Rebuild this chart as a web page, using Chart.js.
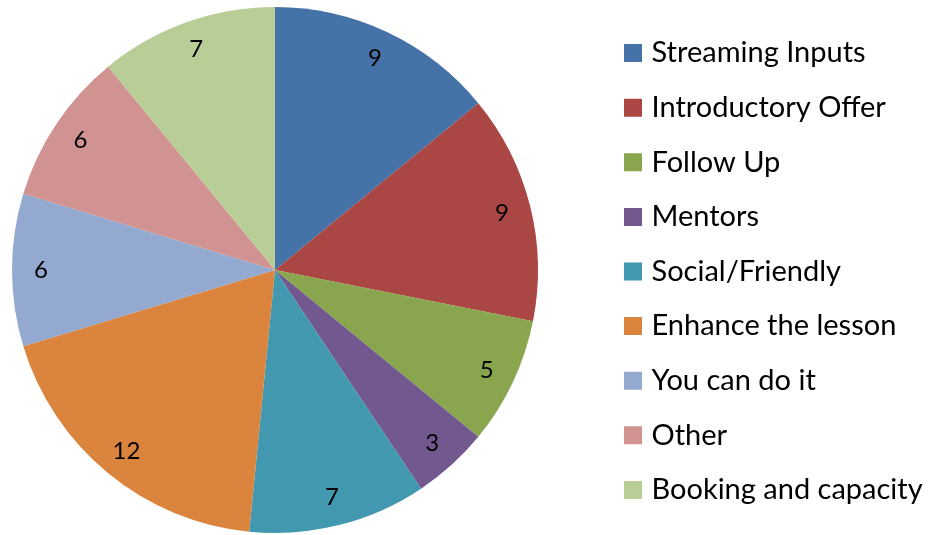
<!DOCTYPE html>
<html>
<head>
<meta charset="utf-8">
<script src="https://cdn.jsdelivr.net/npm/chart.js@4/dist/chart.umd.min.js"></script>
<style>
  html, body { margin: 0; padding: 0; background: #ffffff; }
  #wrap { width: 929px; height: 535px; }
</style>
</head>
<body>
<div id="wrap"><canvas id="c" width="929" height="535"></canvas></div>
<script>
const categories = [
  "Streaming Inputs",
  "Introductory Offer",
  "Follow Up",
  "Mentors",
  "Social/Friendly",
  "Enhance the lesson",
  "You can do it",
  "Other",
  "Booking and capacity"
];
const counts = [9, 9, 5, 3, 7, 12, 6, 6, 7];
const sliceColors = [
  "#4572A7", "#AA4643", "#89A54E", "#71588F", "#4198AF",
  "#DB843D", "#93A9CF", "#D19392", "#B9CD96"
];

const FONT = "Lato, 'Open Sans', sans-serif";
const LEGEND_PAD = 25.6;

// Place plot area (pie) on the left and the legend block on the right, like the original.
const placeBoxes = {
  id: "placeBoxes",
  afterLayout(chart) {
    const ca = chart.chartArea;
    ca.left = 12; ca.right = 538; ca.top = 7; ca.bottom = 533;
    ca.width = ca.right - ca.left; ca.height = ca.bottom - ca.top;
    const lg = chart.legend;
    if (lg) {
      const w = lg.width;
      lg.left = 629 - LEGEND_PAD;
      lg.right = lg.left + w;
      lg.top = 4; lg.bottom = 539;
      lg.height = lg.bottom - lg.top;
    }
  }
};

const valueLabels = {
  id: "valueLabels",
  afterDatasetsDraw(chart) {
    const ctx = chart.ctx;
    const meta = chart.getDatasetMeta(0);
    const data = chart.data.datasets[0].data;
    ctx.save();
    ctx.font = "24px " + FONT;
    ctx.fillStyle = "#000000";
    ctx.textAlign = "center";
    ctx.textBaseline = "middle";
    meta.data.forEach((arc, i) => {
      const p = arc.getProps(["x", "y", "startAngle", "endAngle", "outerRadius"], true);
      const mid = (p.startAngle + p.endAngle) / 2;
      const r = p.outerRadius * 0.89;
      ctx.fillText(String(data[i]), p.x + Math.cos(mid) * r, p.y + Math.sin(mid) * r);
    });
    ctx.restore();
  }
};

new Chart(document.getElementById("c"), {
  type: "pie",
  data: {
    labels: categories,
    datasets: [{
      data: counts,
      backgroundColor: sliceColors,
      borderWidth: 0
    }]
  },
  options: {
    responsive: false,
    animation: false,
    devicePixelRatio: 1,
    layout: { padding: 0 },
    plugins: {
      tooltip: { enabled: false },
      legend: {
        position: "right",
        align: "center",
        labels: {
          font: { family: FONT, size: 29 },
          color: "#000000",
          padding: LEGEND_PAD,
          boxWidth: 8,
          boxHeight: 8,
          generateLabels(chart) {
            return chart.data.labels.map((t, i) => ({
              text: t,
              fillStyle: sliceColors[i],
              strokeStyle: sliceColors[i],
              lineWidth: 10,
              lineJoin: "miter",
              fontColor: "#000000",
              hidden: false,
              index: i
            }));
          }
        }
      }
    }
  },
  plugins: [placeBoxes, valueLabels]
});
</script>
</body>
</html>
